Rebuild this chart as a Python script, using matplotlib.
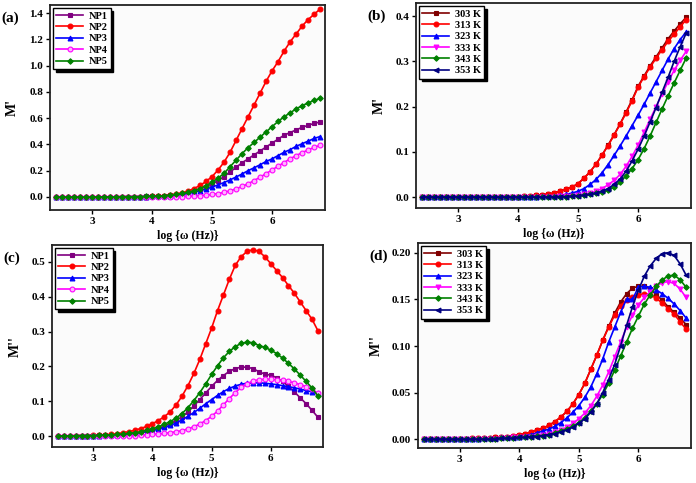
import matplotlib
matplotlib.use('Agg')
from matplotlib import pyplot as plt
from matplotlib.ticker import FormatStrFormatter

plt.rcParams['font.family'] = ['Liberation Serif', 'DejaVu Serif']
plt.rcParams['font.weight'] = 'bold'
plt.rcParams['axes.labelweight'] = 'bold'

# log(omega) grid
logw = [2.4, 2.5, 2.6, 2.7, 2.8, 2.9, 3.0, 3.1, 3.2, 3.3, 3.4, 3.5, 3.6, 3.7, 3.8,
        3.9, 4.0, 4.1, 4.2, 4.3, 4.4, 4.5, 4.6, 4.7, 4.8, 4.9, 5.0, 5.1, 5.2, 5.3,
        5.4, 5.5, 5.6, 5.7, 5.8, 5.9, 6.0, 6.1, 6.2, 6.3, 6.4, 6.5, 6.6, 6.7, 6.8]

np_labels = ['NP1', 'NP2', 'NP3', 'NP4', 'NP5']
temp_labels = ['303 K', '313 K', '323 K', '333 K', '343 K', '353 K']

# (a) M' of the samples
np1_re = [0, 0, 0, 0, 0, 0, 0, 0.001, 0.001, 0.001, 0.001, 0.002, 0.002, 0.002, 0.003, 0.004,
          0.005, 0.007, 0.01, 0.013, 0.018,
          0.025, 0.034, 0.045, 0.06, 0.078, 0.1, 0.125, 0.155, 0.19, 0.225,
          0.26, 0.29, 0.32, 0.35, 0.38, 0.41, 0.44, 0.47, 0.49, 0.51, 0.53, 0.545, 0.56, 0.57]
np2_re = [0, 0, 0, 0, 0, 0, 0, 0.001, 0.001, 0.001, 0.001, 0.002, 0.002, 0.002, 0.003, 0.003,
          0.004, 0.006, 0.009, 0.014, 0.021,
          0.031, 0.045, 0.064, 0.088, 0.118, 0.155, 0.205, 0.265, 0.34, 0.43,
          0.52, 0.61, 0.7, 0.79, 0.88, 0.96, 1.03, 1.11, 1.18, 1.24, 1.3, 1.35, 1.39, 1.43]
np3_re = [0, 0, 0, 0, 0, 0, 0, 0.001, 0.001, 0.001, 0.001, 0.001, 0.002, 0.002, 0.002, 0.003,
          0.004, 0.006, 0.008, 0.011, 0.015,
          0.02, 0.027, 0.036, 0.047, 0.06, 0.075, 0.092, 0.11, 0.13, 0.152,
          0.175, 0.2, 0.222, 0.245, 0.27, 0.29, 0.315, 0.34, 0.36, 0.385, 0.405, 0.425, 0.445, 0.46]
np4_re = [0, 0, 0, 0, 0, 0, 0, 0, 0, 0, 0, 0, 0, 0, 0.001, 0.001,
          0.001, 0.001, 0.002, 0.002, 0.003,
          0.003, 0.005, 0.007, 0.01, 0.014, 0.019, 0.026, 0.035, 0.047, 0.062,
          0.08, 0.1, 0.125, 0.15, 0.178, 0.205, 0.235, 0.262, 0.29, 0.315, 0.337, 0.358, 0.377, 0.393]
np5_re = [0, 0, 0, 0, 0, 0, 0, 0.001, 0.001, 0.001, 0.001, 0.002, 0.002, 0.002, 0.003, 0.004,
          0.005, 0.007, 0.01, 0.014, 0.02,
          0.027, 0.036, 0.048, 0.064, 0.086, 0.112, 0.143, 0.18, 0.23, 0.28,
          0.33, 0.375, 0.415, 0.455, 0.495, 0.535, 0.575, 0.61, 0.64, 0.67, 0.695, 0.715, 0.735, 0.75]

# (b) M' at different temperatures
t303_re = [0, 0, 0, 0, 0, 0, 0, 0, 0, 0, 0, 0, 0, 0.001, 0.001, 0.001,
           0.001, 0.002, 0.003, 0.004, 0.005,
           0.007, 0.009, 0.013, 0.017, 0.022, 0.03, 0.042, 0.056, 0.073, 0.093,
           0.115, 0.138, 0.162, 0.188, 0.215, 0.245, 0.268, 0.29, 0.31, 0.33, 0.35, 0.367, 0.383, 0.397]
t313_re = [0, 0, 0, 0, 0, 0, 0, 0, 0, 0, 0, 0, 0, 0.001, 0.001, 0.001,
           0.001, 0.002, 0.003, 0.004, 0.005,
           0.007, 0.009, 0.013, 0.017, 0.022, 0.03, 0.042, 0.056, 0.073, 0.093,
           0.114, 0.137, 0.161, 0.186, 0.213, 0.243, 0.266, 0.287, 0.307, 0.326, 0.344, 0.36, 0.376, 0.392]
t323_re = [0, 0, 0, 0, 0, 0, 0, 0, 0, 0, 0, 0, 0, 0, 0, 0,
           0, 0.001, 0.001, 0.001, 0.002,
           0.002, 0.003, 0.004, 0.006, 0.009, 0.013, 0.019, 0.028, 0.039, 0.054,
           0.072, 0.092, 0.113, 0.135, 0.158, 0.181, 0.205, 0.23, 0.255, 0.28, 0.305, 0.328, 0.348, 0.365]
t333_re = [0, 0, 0, 0, 0, 0, 0, 0, 0, 0, 0, 0, 0, 0, 0, 0,
           0, 0, 0, 0.001, 0.001,
           0.001, 0.001, 0.002, 0.002, 0.003, 0.004, 0.006, 0.009, 0.013, 0.019,
           0.027, 0.037, 0.05, 0.068, 0.09, 0.115, 0.143, 0.172, 0.2, 0.228, 0.255, 0.28, 0.302, 0.322]
t343_re = [0, 0, 0, 0, 0, 0, 0, 0, 0, 0, 0, 0, 0, 0, 0, 0,
           0, 0, 0, 0, 0,
           0, 0.001, 0.001, 0.001, 0.002, 0.003, 0.004, 0.006, 0.008, 0.011,
           0.015, 0.022, 0.033, 0.047, 0.063, 0.083, 0.107, 0.135, 0.165, 0.195, 0.224, 0.252, 0.28, 0.307]
t353_re = [0, 0, 0, 0, 0, 0, 0, 0, 0, 0, 0, 0, 0, 0, 0, 0,
           0, 0, 0, 0, 0,
           0, 0.001, 0.001, 0.001, 0.002, 0.003, 0.004, 0.006, 0.009, 0.013,
           0.019, 0.028, 0.04, 0.057, 0.08, 0.106, 0.135, 0.166, 0.198, 0.232, 0.265, 0.3, 0.332, 0.362]

# (c) M'' of the samples
np1_im = [0.001, 0.001, 0.001, 0.001, 0.002, 0.002, 0.002, 0.003, 0.003, 0.004, 0.004,
          0.005, 0.007, 0.009, 0.011, 0.014, 0.018, 0.023, 0.029, 0.036, 0.045,
          0.056, 0.07, 0.087, 0.105, 0.124, 0.143, 0.16, 0.174, 0.186, 0.194,
          0.198, 0.198, 0.194, 0.185, 0.178, 0.175, 0.168, 0.157, 0.143, 0.127,
          0.11, 0.093, 0.074, 0.054]
np2_im = [0.001, 0.001, 0.001, 0.002, 0.002, 0.002, 0.003, 0.003, 0.004, 0.005, 0.007,
          0.01, 0.013, 0.017, 0.022, 0.028, 0.036, 0.045, 0.056, 0.07, 0.09,
          0.115, 0.145, 0.18, 0.22, 0.265, 0.31, 0.36, 0.405, 0.45, 0.49,
          0.515, 0.53, 0.535, 0.53, 0.515, 0.495, 0.475, 0.455, 0.432, 0.41,
          0.385, 0.36, 0.335, 0.302]
np3_im = [0.001, 0.001, 0.001, 0.001, 0.001, 0.002, 0.002, 0.002, 0.003, 0.003, 0.004,
          0.005, 0.006, 0.008, 0.01, 0.013, 0.016, 0.02, 0.025, 0.031, 0.038,
          0.047, 0.057, 0.068, 0.08, 0.093, 0.105, 0.117, 0.128, 0.137, 0.144,
          0.149, 0.152, 0.153, 0.153, 0.152, 0.15, 0.148, 0.145, 0.142, 0.139,
          0.135, 0.131, 0.127, 0.123]
np4_im = [0, 0, 0, 0, 0, 0.001, 0.001, 0.001, 0.001, 0.001, 0.001,
          0.001, 0.002, 0.002, 0.003, 0.004, 0.005, 0.006, 0.008, 0.01, 0.013,
          0.016, 0.021, 0.027, 0.035, 0.045, 0.057, 0.072, 0.09, 0.108, 0.125,
          0.14, 0.151, 0.158, 0.162, 0.163, 0.163, 0.162, 0.16, 0.157, 0.153,
          0.148, 0.142, 0.134, 0.123]
np5_im = [0.001, 0.001, 0.001, 0.001, 0.002, 0.002, 0.002, 0.003, 0.003, 0.004, 0.005,
          0.006, 0.008, 0.01, 0.013, 0.017, 0.022, 0.027, 0.034, 0.042, 0.052,
          0.065, 0.082, 0.102, 0.125, 0.15, 0.177, 0.202, 0.225, 0.243, 0.257,
          0.266, 0.27, 0.268, 0.26, 0.255, 0.247, 0.237, 0.224, 0.209, 0.193,
          0.175, 0.157, 0.138, 0.115]

# (d) M'' at different temperatures
t303_im = [0, 0, 0, 0, 0, 0, 0, 0, 0.001, 0.001, 0.001,
           0.001, 0.002, 0.002, 0.003, 0.004, 0.005, 0.006, 0.008, 0.01, 0.012,
           0.015, 0.019, 0.024, 0.03, 0.038, 0.048, 0.06, 0.075, 0.09, 0.106,
           0.121, 0.135, 0.147, 0.156, 0.162, 0.164, 0.164, 0.161, 0.155, 0.149,
           0.142, 0.136, 0.13, 0.123]
t313_im = [0, 0, 0, 0, 0, 0, 0, 0, 0.001, 0.001, 0.001,
           0.001, 0.002, 0.002, 0.003, 0.004, 0.005, 0.006, 0.008, 0.01, 0.012,
           0.015, 0.019, 0.024, 0.03, 0.038, 0.048, 0.06, 0.075, 0.09, 0.106,
           0.12, 0.133, 0.143, 0.149, 0.153, 0.155, 0.156, 0.155, 0.151, 0.146,
           0.14, 0.134, 0.126, 0.118]
t323_im = [0, 0, 0, 0, 0, 0, 0, 0, 0, 0, 0.001,
           0.001, 0.001, 0.002, 0.002, 0.003, 0.003, 0.004, 0.005, 0.007, 0.009,
           0.011, 0.014, 0.018, 0.023, 0.029, 0.036, 0.045, 0.056, 0.07, 0.086,
           0.104, 0.12, 0.136, 0.15, 0.15, 0.163, 0.164, 0.163, 0.16, 0.156,
           0.151, 0.145, 0.138, 0.13]
t333_im = [0, 0, 0, 0, 0, 0, 0, 0, 0, 0, 0,
           0, 0, 0.001, 0.001, 0.002, 0.002, 0.003, 0.003, 0.004, 0.005,
           0.006, 0.008, 0.01, 0.013, 0.017, 0.022, 0.028, 0.036, 0.046, 0.058,
           0.072, 0.088, 0.104, 0.12, 0.133, 0.144, 0.152, 0.158, 0.164, 0.168,
           0.169, 0.167, 0.161, 0.152]
t343_im = [0, 0, 0, 0, 0, 0, 0, 0, 0, 0, 0,
           0, 0, 0.001, 0.001, 0.001, 0.002, 0.002, 0.003, 0.004, 0.004,
           0.005, 0.007, 0.009, 0.011, 0.014, 0.018, 0.023, 0.03, 0.038, 0.048,
           0.06, 0.074, 0.089, 0.104, 0.119, 0.132, 0.145, 0.155, 0.164, 0.171,
           0.175, 0.176, 0.171, 0.163]
t353_im = [0, 0, 0, 0, 0, 0, 0, 0, 0, 0, 0,
           0, 0, 0.001, 0.001, 0.001, 0.002, 0.002, 0.003, 0.003, 0.004,
           0.005, 0.006, 0.008, 0.01, 0.013, 0.017, 0.022, 0.029, 0.038, 0.05,
           0.064, 0.08, 0.1, 0.122, 0.142, 0.16, 0.175, 0.186, 0.194, 0.199,
           0.2, 0.197, 0.188, 0.176]

# styles: (color, marker, facecolor)
np_styles = [('#800080', 's', '#800080'), ('#ff0000', 'o', '#ff0000'), ('#0000ff', '^', '#0000ff'),
             ('#ff00ff', 'o', '#ffb3ff'), ('#008000', 'D', '#008000')]
t_styles = [('#800000', 's', '#800000'), ('#ff0000', 'o', '#ff0000'), ('#0000ff', '^', '#0000ff'),
            ('#ff00ff', 'v', '#ff00ff'), ('#008000', 'D', '#008000'), ('#000080', '<', '#000080')]

fig = plt.figure(figsize=(6.96, 4.83), dpi=100, facecolor='white')


def panel(rect, series, labels, styles, ylim, yticks, fmt, ylabel, tag, ylabel_x):
    ax = fig.add_axes(rect)
    ax.set_facecolor('#fbfbfb')
    for ys, lab, (c, m, fc) in zip(series, labels, styles):
        ms = 2.8 if m == 'D' else 3.5
        ax.plot(logw, ys, color=c, marker=m, markersize=ms, mfc=fc, mec=c,
                mew=0.8, lw=1.2, label=lab)
    ax.set_xlim(2.3, 6.88)
    ax.set_ylim(*ylim)
    ax.set_xticks([3, 4, 5, 6])
    ax.set_yticks(yticks)
    ax.yaxis.set_major_formatter(FormatStrFormatter(fmt))
    ax.tick_params(direction='out', length=3, width=1, labelsize=8, pad=2)
    for lbl in ax.get_xticklabels() + ax.get_yticklabels():
        lbl.set_fontweight('bold')
    for sp in ax.spines.values():
        sp.set_linewidth(1.3)
        sp.set_color('#222222')
    ax.set_xlabel('log {\u03c9 (Hz)}', fontsize=8.5, labelpad=3)
    ax.set_ylabel(ylabel, fontsize=10)
    ax.yaxis.set_label_coords(ylabel_x, 0.5)
    leg = ax.legend(loc='upper left', fontsize=7.5, frameon=True, fancybox=False,
                    shadow={'color': 'black', 'alpha': 1}, handlelength=2.6,
                    handletextpad=0.5, labelspacing=0.2, borderpad=0.3,
                    borderaxespad=0.3, markerscale=1.0)
    leg.get_frame().set_edgecolor('black')
    leg.get_frame().set_linewidth(1.0)
    for t in leg.get_texts():
        t.set_fontweight('bold')
    fig.text(rect[0] - 0.07, rect[1] + rect[3] - 0.035, tag, fontsize=11, fontweight='bold')
    return ax


panel([0.0718, 0.565, 0.395, 0.4244], [np1_re, np2_re, np3_re, np4_re, np5_re],
      np_labels, np_styles, (-0.1, 1.46), [0, 0.2, 0.4, 0.6, 0.8, 1.0, 1.2, 1.4],
      '%.1f', "M'", '(a)', -0.115)
panel([0.5977, 0.5694, 0.395, 0.4244], [t303_re, t313_re, t323_re, t333_re, t343_re, t353_re],
      temp_labels, t_styles, (-0.024, 0.429), [0, 0.1, 0.2, 0.3, 0.4],
      '%.1f', "M'", '(b)', -0.11)
panel([0.0747, 0.0745, 0.389, 0.418], [np1_im, np2_im, np3_im, np4_im, np5_im],
      np_labels, np_styles, (-0.031, 0.548), [0, 0.1, 0.2, 0.3, 0.4, 0.5],
      '%.1f', "M''", '(c)', -0.11)
panel([0.6006, 0.0725, 0.392, 0.4244], [t303_im, t313_im, t323_im, t333_im, t343_im, t353_im],
      temp_labels, t_styles, (-0.0093, 0.2104), [0, 0.05, 0.1, 0.15, 0.2],
      '%.2f', "M''", '(d)', -0.128)

plt.savefig('out.png', dpi=100, facecolor='white')
